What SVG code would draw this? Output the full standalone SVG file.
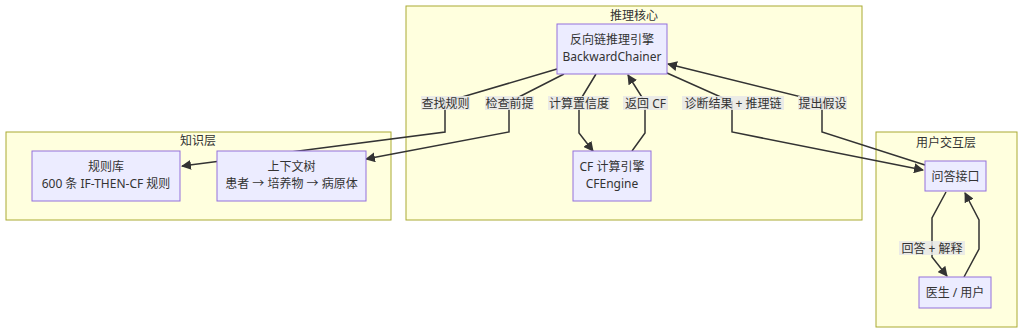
<svg xmlns="http://www.w3.org/2000/svg" width="1024" height="333" viewBox="0 0 1024 333">
<style>
  text { font-family: "Noto Sans", "Noto Sans CJK SC", sans-serif; font-size: 12px; fill: #333; text-anchor: middle; dominant-baseline: central; }
  .cluster { fill: #ffffde; stroke: #aaaa33; stroke-width: 1; }
  .node rect { fill: #ececff; stroke: #9370db; stroke-width: 1; }
  .edge { fill: none; stroke: #333; stroke-width: 1.5; }
  .lbl { fill: #e8e8e8; fill-opacity: 0.85; }
</style>
<defs>
  <marker id="arrow" viewBox="0 0 10 10" refX="9" refY="5" markerWidth="10" markerHeight="10" markerUnits="userSpaceOnUse" orient="auto">
    <path d="M0,0 L10,5 L0,10 z" fill="#333"/>
  </marker>
</defs>
<rect width="1024" height="333" fill="#ffffff"/>

<g id="clusters">
  <g id="cluster-core">
    <rect class="cluster" x="406" y="6" width="456" height="214"/>
    <text x="634" y="15">推理核心</text>
  </g>
  <g id="cluster-knowledge">
    <rect class="cluster" x="6" y="132" width="385" height="88"/>
    <text x="198" y="140">知识层</text>
  </g>
  <g id="cluster-user">
    <rect class="cluster" x="876" y="132" width="141" height="195"/>
    <text x="946" y="142">用户交互层</text>
  </g>
</g>

<g id="connectors">
  <polyline class="edge" points="557,69 445,102 445,132 182,166" marker-end="url(#arrow)"/>
  <polyline class="edge" points="564,74 509,102 509,132 366,159" marker-end="url(#arrow)"/>
  <polyline class="edge" points="596,74 579,102 579,133 593,151" marker-end="url(#arrow)"/>
  <polyline class="edge" points="632,151 645,133 645,102 628,75" marker-end="url(#arrow)"/>
  <polyline class="edge" points="667,73 732,102 732,132 923,170" marker-end="url(#arrow)"/>
  <polyline class="edge" points="925,165 822,132 822,102 668,64" marker-end="url(#arrow)"/>
  <polyline class="edge" points="946,192 932,218 932,257 947,276" marker-end="url(#arrow)"/>
  <polyline class="edge" points="964,277 979,249 979,220 965,193" marker-end="url(#arrow)"/>

  <g id="edge-labels">
    <rect class="lbl" x="421" y="96" width="49" height="14"/>
    <text x="445.5" y="103">查找规则</text>
    <rect class="lbl" x="485" y="96" width="49" height="14"/>
    <text x="509.5" y="103">检查前提</text>
    <rect class="lbl" x="548" y="96" width="62" height="14"/>
    <text x="579" y="103">计算置信度</text>
    <rect class="lbl" x="623" y="96" width="45" height="14"/>
    <text x="645.5" y="103">返回 CF</text>
    <rect class="lbl" x="682" y="96" width="102" height="14"/>
    <text x="733" y="103">诊断结果 + 推理链</text>
    <rect class="lbl" x="798" y="96" width="49" height="14"/>
    <text x="822.5" y="103">提出假设</text>
    <rect class="lbl" x="899" y="241" width="66" height="14"/>
    <text x="932" y="248">回答 + 解释</text>
  </g>
</g>

<g id="node-backward" class="node">
  <rect x="557" y="24" width="110" height="50"/>
  <text x="612" y="39">反向链推理引擎</text>
  <text x="612" y="56">BackwardChainer</text>
</g>
<g id="node-rules" class="node">
  <rect x="32" y="151" width="148" height="50"/>
  <text x="106" y="166">规则库</text>
  <text x="106" y="183">600 条 IF-THEN-CF 规则</text>
</g>
<g id="node-context" class="node">
  <rect x="217" y="151" width="149" height="50"/>
  <text x="291.5" y="166">上下文树</text>
  <text x="291.5" y="183">患者 → 培养物 → 病原体</text>
</g>
<g id="node-cf" class="node">
  <rect x="573" y="151" width="78" height="50"/>
  <text x="612" y="166">CF 计算引擎</text>
  <text x="612" y="183">CFEngine</text>
</g>
<g id="node-qa" class="node">
  <rect x="925" y="161" width="61" height="30"/>
  <text x="955.5" y="176">问答接口</text>
</g>
<g id="node-user" class="node">
  <rect x="919" y="277" width="72" height="31"/>
  <text x="955" y="292.5">医生 / 用户</text>
</g>
</svg>
